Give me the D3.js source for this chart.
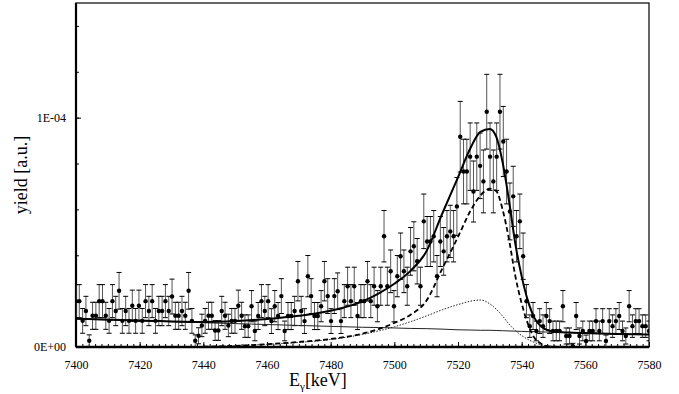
<!DOCTYPE html>
<html>
<head>
<meta charset="utf-8">
<script src="https://cdn.jsdelivr.net/npm/d3@7"></script>
<style>
  body { margin: 0; background: #fff; }
  svg { display: block; }
  svg text { font-family: 'Liberation Serif', 'Times New Roman', serif; }
</style>
</head>
<body>
<svg id="chart" width="679" height="394"></svg>
<script>
// measured yield per bin, in units of 1E-05
const binStart = 7400;
const binWidth = 1.0405;
const yieldVals = [
  2.0, 2.0, 1.14, 1.57, 0.27, 1.36, 1.36, 2.0, 2.0, 1.36,
  1.14, 2.0, 1.57, 2.45, 1.14, 1.57, 1.14, 1.8, 1.14, 1.8,
  1.14, 2.0, 1.57, 2.0, 1.14, 1.57, 1.57, 2.0, 1.57, 2.2,
  1.36, 1.36, 1.57, 1.36, 2.45, 1.14, 0.27, 0.49, 0.94, 1.14,
  1.36, 1.36, 0.72, 0.72, 1.57, 1.36, 0.94, 1.14, 1.14, 1.8,
  1.36,
  0.91, 0.91, 1.78, 0.7, 1.35, 2.0, 1.57, 2.0, 1.13, 1.78,
  1.35, 2.22, 0.7, 1.35, 1.35, 1.57, 2.87, 1.57, 1.13, 3.09,
  2.22, 1.35, 1.35, 1.78, 2.87, 2.22,
  1.13, 2.22, 2.43, 1.13, 2.0, 2.65, 2.0, 2.65, 1.35, 2.0,
  2.0, 2.87, 2.0, 2.65, 1.78, 2.65, 4.83, 2.65, 3.3, 1.78,
  3.09, 3.96, 3.3, 2.65, 4.17, 4.39,
  3.74, 2.65, 5.48, 4.6, 4.6, 4.83, 3.09, 4.6, 4.17, 4.83,
  5.04, 4.83, 6.13, 9.17, 7.65, 7.65, 8.3, 6.78, 8.3, 7.9,
  7.22, 10.26, 8.3, 7.22, 8.3,
  10.26, 8.96, 7.65, 5.91, 6.57, 4.83, 5.48, 3.96, 2.0, 0.91,
  1.35, 0.7, 1.13, 0.91, 1.35, 1.13, 0.7, 0.7, 0.7, 1.78,
  0.48, 0.48, 0.04, 1.35, 0.48,
  0.7, 0.26, 0.7, 0.7, 1.13, 0.7, 1.13, 0.26, 1.13, 0.91,
  1.13, 1.35, 0.7, 0.48, 1.78, 0.91, 1.13, 1.13, 0.91, 0.91, 0.7
];
const yieldErrs = [
  0.72, 0.72, 0.54, 0.64, 0.26, 0.59, 0.59, 0.72, 0.72, 0.59,
  0.54, 0.72, 0.64, 0.8, 0.54, 0.64, 0.54, 0.68, 0.54, 0.68,
  0.54, 0.72, 0.64, 0.72, 0.54, 0.64, 0.64, 0.72, 0.64, 0.76,
  0.59, 0.59, 0.64, 0.59, 0.8, 0.54, 0.26, 0.35, 0.49, 0.54,
  0.59, 0.59, 0.43, 0.43, 0.64, 0.59, 0.49, 0.54, 0.54, 0.68,
  0.59,
  0.49, 0.49, 0.68, 0.43, 0.59, 0.72, 0.64, 0.72, 0.54, 0.68,
  0.59, 0.76, 0.43, 0.59, 0.59, 0.64, 0.86, 0.64, 0.54, 0.9,
  0.76, 0.59, 0.59, 0.68, 0.86, 0.76,
  0.54, 0.76, 0.8, 0.54, 0.72, 0.83, 0.72, 0.83, 0.59, 0.72,
  0.72, 0.86, 0.72, 0.83, 0.68, 0.83, 1.12, 0.83, 0.93, 0.68,
  0.9, 1.01, 0.93, 0.83, 1.04, 1.07,
  0.99, 0.83, 1.19, 1.09, 1.09, 1.12, 0.9, 1.09, 1.04, 1.12,
  1.14, 1.12, 1.26, 1.54, 1.41, 1.41, 1.47, 1.33, 1.47, 1.43,
  1.37, 1.63, 1.47, 1.37, 1.47,
  1.63, 1.53, 1.41, 1.24, 1.31, 1.12, 1.19, 1.01, 0.72, 0.49,
  0.59, 0.43, 0.54, 0.49, 0.59, 0.54, 0.43, 0.43, 0.43, 0.68,
  0.35, 0.35, 0.12, 0.59, 0.35,
  0.43, 0.26, 0.43, 0.43, 0.54, 0.43, 0.54, 0.26, 0.54, 0.49,
  0.54, 0.59, 0.43, 0.35, 0.68, 0.49, 0.54, 0.54, 0.49, 0.49, 0.43
];

// fit curves (same units)
const curveE = [7400, 7420, 7440, 7450, 7460, 7470, 7480, 7490, 7495, 7500,
  7505, 7510, 7515, 7520, 7524, 7527, 7530, 7532, 7534, 7536,
  7538, 7540, 7542, 7544, 7546, 7548, 7550, 7555, 7560, 7570, 7580];
const bgCurve = [1.22, 1.14, 1.06, 1.02, 0.98, 0.94, 0.9, 0.86, 0.85, 0.83,
  0.81, 0.8, 0.78, 0.75, 0.74, 0.73, 0.73, 0.72, 0.71, 0.7,
  0.69, 0.68, 0.67, 0.67, 0.66, 0.65, 0.64, 0.62, 0.61, 0.57, 0.54];
const mainCurve = [null, null, 0.01, 0.05, 0.12, 0.22, 0.35, 0.58, 0.78, 1.05,
  1.4, 2.0, 3.4, 4.8, 5.96, 6.6, 6.9, 6.8, 6.0, 4.7,
  3.1, 1.9, 1.0, 0.4, 0.15, 0.04, 0.01, 0.0, 0.0, null, null];
const broadCurve = [null, null, 0.02, 0.06, 0.12, 0.2, 0.33, 0.55, 0.7, 0.88,
  1.1, 1.35, 1.62, 1.85, 2.0, 2.05, 1.88, 1.65, 1.35, 1.0,
  0.72, 0.5, 0.33, 0.2, 0.1, 0.05, 0.03, 0.01, 0.0, null, null];
const totalCurve = [1.24, 1.16, 1.09, 1.13, 1.22, 1.36, 1.58, 1.99, 2.33, 2.76,
  3.31, 4.15, 5.8, 7.4, 8.7, 9.38, 9.51, 9.17, 8.06, 6.4,
  4.51, 3.08, 2.0, 1.27, 0.91, 0.74, 0.68, 0.63, 0.61, 0.57, 0.54];

const xTicks = [7400, 7420, 7440, 7460, 7480, 7500, 7520, 7540, 7560, 7580];
const yTicks = [0, 10];
const yTickLabels = ['0E+00', '1E-04'];

const width = 679, height = 394;
const margin = { top: 3, right: 30, bottom: 47, left: 76 };
const innerW = width - margin.left - margin.right;
const innerH = height - margin.top - margin.bottom;

const x = d3.scaleLinear().domain([7400, 7580]).range([0, innerW]);
const y = d3.scaleLinear().domain([0, 15]).range([innerH, 0]);

const svg = d3.select('#chart');
const g = svg.append('g').attr('transform', `translate(${margin.left},${margin.top})`);

g.append('clipPath').attr('id', 'clip')
  .append('rect').attr('x', 0).attr('y', 0).attr('width', innerW).attr('height', innerH);

// minor ticks
g.append('g').attr('transform', `translate(0,${innerH})`)
  .call(d3.axisBottom(x).tickValues(d3.range(7400, 7581, 2)).tickSize(-3).tickFormat(''))
  .call(s => s.select('.domain').remove());
g.append('g')
  .call(d3.axisLeft(y).tickValues(d3.range(0, 15.1, 2)).tickSize(-3).tickFormat(''))
  .call(s => s.select('.domain').remove());

// major ticks + labels
const xAxis = g.append('g').attr('transform', `translate(0,${innerH})`)
  .call(d3.axisBottom(x).tickValues(xTicks).tickSize(-5).tickPadding(13).tickFormat(d3.format('d')));
xAxis.select('.domain').remove();
xAxis.attr('font-size', 12);
xAxis.selectAll('text').attr('fill', '#000');

const yAxis = g.append('g')
  .call(d3.axisLeft(y).tickValues(yTicks).tickSize(-5).tickPadding(10)
    .tickFormat((d, i) => yTickLabels[i]));
yAxis.select('.domain').remove();
yAxis.attr('font-size', 12);
yAxis.selectAll('text').attr('fill', '#000');

// frame
g.append('rect').attr('width', innerW).attr('height', innerH)
  .attr('fill', 'none').attr('stroke', '#000').attr('stroke-width', 1.2);
g.append('line').attr('x1', 0).attr('x2', 0).attr('y1', 0).attr('y2', innerH)
  .attr('stroke', '#000').attr('stroke-width', 2.2);
g.append('line').attr('x1', 0).attr('x2', innerW).attr('y1', innerH).attr('y2', innerH)
  .attr('stroke', '#000').attr('stroke-width', 2.4);

const plot = g.append('g').attr('clip-path', 'url(#clip)');

const points = yieldVals.map((v, i) => ({ e: binStart + i * binWidth, v: v, err: yieldErrs[i] }));

// error bars
const bars = plot.append('g').attr('stroke-width', 1);
bars.selectAll('line.bar').data(points).enter().append('line')
  .attr('class', 'bar')
  .attr('x1', d => x(d.e)).attr('x2', d => x(d.e))
  .attr('y1', d => y(d.v - d.err)).attr('y2', d => y(d.v + d.err))
  .attr('stroke', '#555');
['lo', 'hi'].forEach(k => {
  bars.selectAll('line.cap-' + k).data(points).enter().append('line')
    .attr('class', 'cap-' + k)
    .attr('x1', d => x(d.e) - 2.5).attr('x2', d => x(d.e) + 2.5)
    .attr('y1', d => y(k === 'lo' ? d.v - d.err : d.v + d.err))
    .attr('y2', d => y(k === 'lo' ? d.v - d.err : d.v + d.err))
    .attr('stroke', '#000');
});

// fit curves
function drawCurve(vals, width, dash, color) {
  const line = d3.line()
    .defined(d => d[1] != null)
    .x(d => x(d[0])).y(d => y(d[1]))
    .curve(d3.curveMonotoneX);
  plot.append('path')
    .datum(curveE.map((e, i) => [e, vals[i]]))
    .attr('d', line)
    .attr('fill', 'none')
    .attr('stroke', color)
    .attr('stroke-width', width)
    .attr('stroke-dasharray', dash);
}
drawCurve(bgCurve, 1, null, '#222');
drawCurve(broadCurve, 1, '1.5,1.5', '#222');
drawCurve(mainCurve, 1.8, '5,3', '#000');
drawCurve(totalCurve, 2, null, '#000');

// data points
plot.append('g').selectAll('circle').data(points).enter().append('circle')
  .attr('cx', d => x(d.e)).attr('cy', d => y(d.v)).attr('r', 2.2)
  .attr('fill', '#000');

// axis titles
const xt = svg.append('text').attr('x', 289).attr('y', 386).attr('font-size', 18);
xt.append('tspan').text('E');
xt.append('tspan').attr('font-size', 11).attr('dy', 4).text('γ');
xt.append('tspan').attr('dy', -4).text('[keV]');

svg.append('text')
  .attr('transform', `translate(27,${margin.top + innerH / 2}) rotate(-90)`)
  .attr('text-anchor', 'middle')
  .attr('font-size', 18)
  .text('yield [a.u.]');
</script>
</body>
</html>
